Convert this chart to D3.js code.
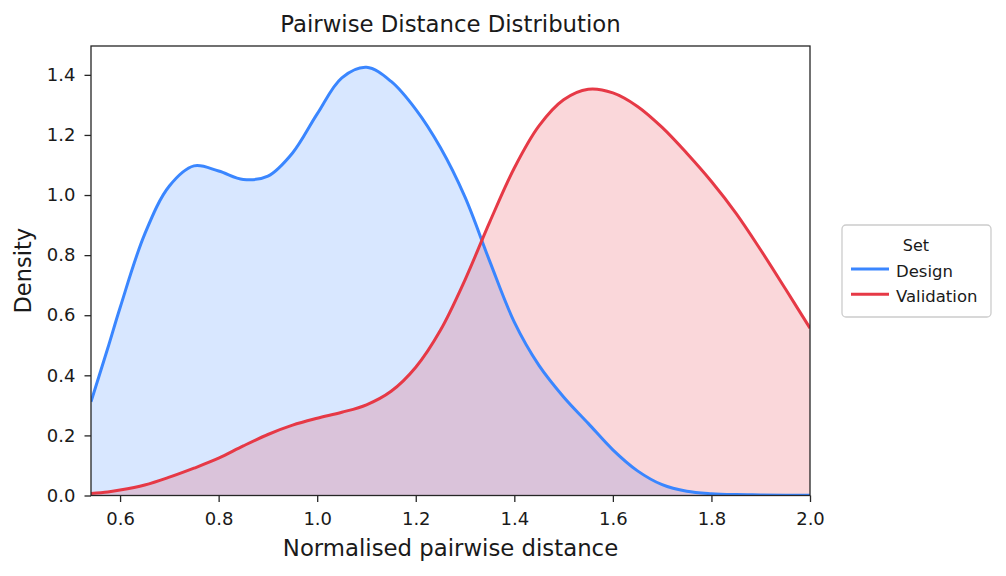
<!DOCTYPE html>
<html>
<head>
<meta charset="utf-8">
<script src="https://cdn.jsdelivr.net/npm/d3@7"></script>
<style>
  body { margin: 0; background: #fff; }
  svg { display: block; font-family: "DejaVu Sans", sans-serif; }
</style>
</head>
<body>
<div id="chart"></div>
<script>
const WIDTH = 1006;
const HEIGHT = 576;
const MARGIN = {top: 46, right: 196, bottom: 80.5, left: 91};

// KDE sample points
const distances = [0.541, 0.575, 0.60, 0.65, 0.70, 0.75, 0.80, 0.85, 0.90, 0.95,
    1.00, 1.05, 1.10, 1.15, 1.20, 1.25, 1.30, 1.35, 1.40, 1.45,
    1.50, 1.55, 1.60, 1.65, 1.70, 1.75, 1.80, 1.85, 1.90, 1.95, 2.00];
const designDensity = [0.312, 0.49, 0.625, 0.87, 1.03, 1.097, 1.08, 1.052, 1.063, 1.14,
    1.27, 1.39, 1.425, 1.378, 1.285, 1.158, 0.993, 0.78, 0.577, 0.433,
    0.328, 0.24, 0.152, 0.082, 0.036, 0.014, 0.006, 0.003, 0.002, 0.001, 0.001];
const validationDensity = [0.007, 0.012, 0.018, 0.035, 0.061, 0.091, 0.124, 0.165, 0.203, 0.234,
    0.257, 0.277, 0.302, 0.347, 0.427, 0.55, 0.718, 0.91, 1.09, 1.23,
    1.317, 1.352, 1.34, 1.295, 1.225, 1.139, 1.045, 0.939, 0.817, 0.688, 0.557];

const seriesNames = ["Design", "Validation"];
const seriesColors = ["#3a86ff", "#e63946"];
const xTicks = [0.6, 0.8, 1.0, 1.2, 1.4, 1.6, 1.8, 2.0];
const yTicks = [0.0, 0.2, 0.4, 0.6, 0.8, 1.0, 1.2, 1.4];

const series = [designDensity, validationDensity].map((vals, i) => ({
    name: seriesNames[i],
    color: seriesColors[i],
    points: distances.map((d, j) => ({x: d, y: vals[j]}))
}));

const svg = d3.select("#chart")
    .append("svg")
    .attr("width", WIDTH)
    .attr("height", HEIGHT);

const x = d3.scaleLinear()
    .domain([0.541, 2.0])
    .range([MARGIN.left, WIDTH - MARGIN.right]);

const y = d3.scaleLinear()
    .domain([0, 1.496])
    .range([HEIGHT - MARGIN.bottom, MARGIN.top]);

svg.append("clipPath")
    .attr("id", "plot-clip")
    .append("rect")
    .attr("x", MARGIN.left)
    .attr("y", MARGIN.top)
    .attr("width", x.range()[1] - x.range()[0])
    .attr("height", y.range()[0] - y.range()[1]);

const smooth = d3.curveCatmullRom.alpha(0.5);

const area = d3.area()
    .x(d => x(d.x))
    .y0(y(0))
    .y1(d => y(d.y))
    .curve(smooth);

const line = d3.line()
    .x(d => x(d.x))
    .y(d => y(d.y))
    .curve(smooth);

const plot = svg.append("g").attr("clip-path", "url(#plot-clip)");

plot.selectAll("path.fill")
    .data(series)
    .enter()
    .append("path")
    .attr("class", "fill")
    .attr("d", d => area(d.points))
    .attr("fill", d => d.color)
    .attr("fill-opacity", 0.2);

plot.selectAll("path.curve")
    .data(series)
    .enter()
    .append("path")
    .attr("class", "curve")
    .attr("d", d => line(d.points))
    .attr("fill", "none")
    .attr("stroke", d => d.color)
    .attr("stroke-width", 3);

// axes
const xAxis = svg.append("g")
    .attr("transform", `translate(0,${y(0)})`)
    .call(d3.axisBottom(x).tickValues(xTicks).tickFormat(d3.format(".1f"))
        .tickSize(6.5).tickPadding(10));

const yAxis = svg.append("g")
    .attr("transform", `translate(${MARGIN.left},0)`)
    .call(d3.axisLeft(y).tickValues(yTicks).tickFormat(d3.format(".1f"))
        .tickSize(6.5).tickPadding(9));

[xAxis, yAxis].forEach(g => {
    g.select(".domain").remove();
    g.selectAll(".tick line").attr("stroke", "#262626").attr("stroke-width", 1.3);
    g.selectAll(".tick text")
        .attr("fill", "#1a1a1a")
        .style("font-size", "18px")
        .style("font-family", "DejaVu Sans");
});

svg.append("rect")
    .attr("x", MARGIN.left)
    .attr("y", MARGIN.top)
    .attr("width", x.range()[1] - x.range()[0])
    .attr("height", y.range()[0] - y.range()[1])
    .attr("fill", "none")
    .attr("stroke", "#262626")
    .attr("stroke-width", 1.3);

// titles
svg.append("text")
    .attr("x", (x.range()[0] + x.range()[1]) / 2)
    .attr("y", 32)
    .attr("text-anchor", "middle")
    .style("font-size", "22.8px")
    .attr("fill", "#1a1a1a")
    .text("Pairwise Distance Distribution");

svg.append("text")
    .attr("x", (x.range()[0] + x.range()[1]) / 2)
    .attr("y", 555.5)
    .attr("text-anchor", "middle")
    .style("font-size", "22.8px")
    .attr("fill", "#1a1a1a")
    .text("Normalised pairwise distance");

svg.append("text")
    .attr("transform", `translate(31,${(y.range()[0] + y.range()[1]) / 2}) rotate(-90)`)
    .attr("text-anchor", "middle")
    .style("font-size", "22.5px")
    .attr("fill", "#1a1a1a")
    .text("Density");

// legend
const legend = svg.append("g").attr("transform", "translate(842,225)");

legend.append("rect")
    .attr("width", 149)
    .attr("height", 92)
    .attr("rx", 4)
    .attr("fill", "#fff")
    .attr("stroke", "#cccccc")
    .attr("stroke-width", 1.3);

legend.append("text")
    .attr("x", 74)
    .attr("y", 26)
    .attr("text-anchor", "middle")
    .style("font-size", "16px")
    .attr("fill", "#1a1a1a")
    .text("Set");

const items = legend.selectAll("g.item")
    .data(series)
    .enter()
    .append("g")
    .attr("class", "item")
    .attr("transform", (d, i) => `translate(0,${44 + i * 25.3})`);

items.append("line")
    .attr("x1", 9)
    .attr("x2", 47)
    .attr("stroke", d => d.color)
    .attr("stroke-width", 3);

items.append("text")
    .attr("x", 54)
    .attr("y", 7.5)
    .style("font-size", "16.5px")
    .attr("fill", "#1a1a1a")
    .text(d => d.name);
</script>
</body>
</html>
